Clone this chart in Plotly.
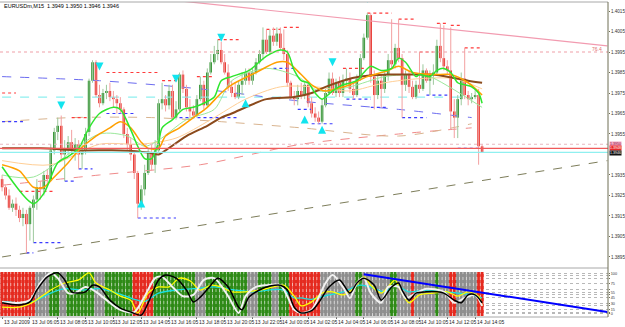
import plotly.graph_objects as go

# ---------------- price data (EURUSD, one bar per slot) ----------------
bar_idx = list(range(139))
opens = [1.3933,1.3929,1.3925,1.3919,1.3921,1.3918,1.3914,1.3916,1.3911,1.3919,
         1.3923,1.3929,1.3928,1.3935,1.3933,1.3947,1.3956,1.3959,1.3945,1.3948,
         1.3951,1.3947,1.3950,1.3945,1.3947,1.3956,1.3981,1.3990,1.3974,1.3970,
         1.3975,1.3976,1.3973,1.3972,1.3970,1.3967,1.3955,1.3950,1.3945,1.3936,
         1.3921,1.3928,1.3936,1.3946,1.3940,1.3947,1.3970,1.3972,1.3969,1.3976,
         1.3963,1.3967,1.3984,1.3977,1.3968,1.3966,1.3964,1.3972,1.3979,1.3969,
         1.3985,1.3990,1.3994,1.3996,1.3990,1.3985,1.3978,1.3975,1.3973,1.3979,
         1.3981,1.3985,1.3981,1.3985,1.3990,1.3994,1.4001,1.3995,1.4003,1.4000,
         1.4004,1.3997,1.3994,1.3980,1.3973,1.3972,1.3976,1.3974,1.3979,1.3970,
         1.3965,1.3963,1.3961,1.3969,1.3975,1.3982,1.3975,1.3980,1.3975,1.3981,
         1.3982,1.3977,1.3974,1.3982,1.3992,1.4002,1.4013,1.3983,1.3974,1.3981,
         1.3977,1.3984,1.3991,1.3989,1.3997,1.3992,1.3979,1.3984,1.3978,1.3973,
         1.3979,1.3977,1.3986,1.3981,1.3984,1.3985,1.3998,1.3992,1.3988,1.3986,
         1.3966,1.3963,1.3972,1.3982,1.3974,1.3972,1.3973,1.3974,1.3949]
highs = [1.3935,1.3930,1.3928,1.3923,1.3924,1.3920,1.3919,1.3918,1.3920,1.3925,
         1.3933,1.3932,1.3937,1.3938,1.3950,1.3958,1.3963,1.3964,1.3952,1.3954,
         1.3957,1.3953,1.3952,1.3950,1.3958,1.3982,1.3991,1.3991,1.3979,1.3977,
         1.3979,1.3980,1.3976,1.3974,1.3973,1.3968,1.3958,1.3953,1.3947,1.3937,
         1.3930,1.3940,1.3948,1.3950,1.3952,1.3972,1.3980,1.3974,1.3979,1.3979,
         1.3971,1.3985,1.3986,1.3979,1.3972,1.3969,1.3974,1.3983,1.3981,1.3987,
         1.3994,1.3998,1.4001,1.4000,1.3994,1.3989,1.3981,1.3980,1.3981,1.3985,
         1.3987,1.3987,1.3987,1.3992,1.3996,1.4007,1.4006,1.4006,1.4007,1.4007,
         1.4007,1.4006,1.3996,1.3981,1.3976,1.3979,1.3980,1.3981,1.3980,1.3973,
         1.3968,1.3966,1.3972,1.3977,1.3985,1.3985,1.3982,1.3983,1.3984,1.3987,
         1.3985,1.3980,1.3984,1.3994,1.4004,1.4014,1.4014,1.3986,1.3984,1.3984,
         1.3986,1.3994,1.4011,1.3999,1.4011,1.3994,1.3986,1.3986,1.3981,1.3981,
         1.3995,1.3989,1.3987,1.3986,1.3989,1.4001,1.4009,1.4008,1.3991,1.4007,
         1.3972,1.3974,1.3985,1.3997,1.3976,1.3975,1.3977,1.3977,1.3950]
lows = [1.3927,1.3923,1.3918,1.3917,1.3915,1.3912,1.3910,1.3897,1.3903,1.3902,
        1.3918,1.3923,1.3925,1.3930,1.3932,1.3945,1.3952,1.3942,1.3932,1.3945,
        1.3945,1.3942,1.3938,1.3938,1.3945,1.3954,1.3980,1.3973,1.3968,1.3969,
        1.3972,1.3971,1.3968,1.3965,1.3965,1.3953,1.3947,1.3942,1.3933,1.3914,
        1.3918,1.3925,1.3935,1.3937,1.3936,1.3946,1.3967,1.3966,1.3967,1.3962,
        1.3962,1.3966,1.3975,1.3966,1.3963,1.3963,1.3963,1.3971,1.3967,1.3968,
        1.3984,1.3989,1.3991,1.3989,1.3984,1.3976,1.3973,1.3972,1.3972,1.3974,
        1.3979,1.3979,1.3979,1.3984,1.3989,1.3991,1.3994,1.3994,1.3998,1.3998,
        1.3996,1.3991,1.3978,1.3972,1.3969,1.3969,1.3972,1.3972,1.3968,1.3963,
        1.3961,1.3960,1.3960,1.3968,1.3974,1.3974,1.3973,1.3973,1.3973,1.3979,
        1.3975,1.3972,1.3973,1.3981,1.3991,1.4001,1.3980,1.3967,1.3972,1.3968,
        1.3975,1.3981,1.3987,1.3987,1.3990,1.3963,1.3976,1.3975,1.3972,1.3972,
        1.3975,1.3976,1.3980,1.3974,1.3979,1.3984,1.3990,1.3986,1.3984,1.3957,
        1.3953,1.3953,1.3969,1.3972,1.3969,1.3970,1.3972,1.3940,1.3946]
closes = [1.3929,1.3925,1.3919,1.3921,1.3918,1.3914,1.3916,1.3911,1.3919,1.3923,
          1.3929,1.3928,1.3935,1.3933,1.3947,1.3956,1.3959,1.3945,1.3948,1.3951,
          1.3947,1.3950,1.3945,1.3947,1.3955,1.3981,1.3990,1.3974,1.3970,1.3975,
          1.3976,1.3973,1.3972,1.3970,1.3967,1.3955,1.3950,1.3945,1.3936,1.3921,
          1.3928,1.3936,1.3946,1.3940,1.3947,1.3970,1.3972,1.3969,1.3976,1.3963,
          1.3967,1.3984,1.3977,1.3968,1.3966,1.3964,1.3972,1.3979,1.3969,1.3985,
          1.3990,1.3994,1.3996,1.3990,1.3985,1.3978,1.3975,1.3973,1.3979,1.3981,
          1.3985,1.3981,1.3985,1.3990,1.3994,1.4001,1.3995,1.4003,1.4000,1.4004,
          1.3997,1.3994,1.3980,1.3973,1.3972,1.3976,1.3974,1.3979,1.3970,1.3965,
          1.3963,1.3961,1.3969,1.3975,1.3982,1.3975,1.3980,1.3975,1.3981,1.3982,
          1.3977,1.3974,1.3982,1.3992,1.4002,1.4013,1.3983,1.3974,1.3981,1.3977,
          1.3984,1.3991,1.3989,1.3997,1.3992,1.3979,1.3984,1.3978,1.3973,1.3979,
          1.3977,1.3986,1.3981,1.3984,1.3985,1.3998,1.3992,1.3988,1.3986,1.3966,
          1.3963,1.3972,1.3982,1.3974,1.3972,1.3973,1.3974,1.3949,1.3946]

# ---------------- moving averages (sampled from the chart) ----------------
ma_fast_x = [0, 9, 12, 16, 19, 22, 25, 28, 32, 34, 37, 39, 41, 43, 45, 46, 49, 52, 55, 58, 61, 63, 66, 71, 76, 80, 82, 84, 86, 88, 90, 92, 95, 98, 102, 104, 106, 109, 112, 114, 116, 119, 120, 123, 125, 127, 129, 131, 133, 135, 137, 138]
ma_fast_y = [1.3939, 1.3921, 1.3926, 1.3941, 1.3944, 1.3948, 1.3958, 1.3965, 1.3968, 1.3967, 1.3957, 1.3949, 1.3943, 1.3943, 1.3951, 1.3958, 1.3962, 1.3967, 1.3968, 1.3970, 1.3973, 1.3981, 1.3983, 1.3986, 1.3993, 1.3996, 1.3995, 1.3986, 1.3981, 1.3980, 1.3975, 1.3972, 1.3976, 1.3979, 1.3981, 1.3985, 1.3988, 1.3986, 1.3987, 1.3992, 1.3990, 1.3983, 1.3984, 1.3983, 1.3986, 1.3987, 1.3985, 1.3980, 1.3979, 1.3978, 1.3975, 1.3970]
ma_mid_x = [0, 5, 9, 12, 15, 19, 22, 27, 31, 34, 37, 40, 42, 45, 47, 51, 55, 59, 63, 66, 73, 79, 82, 86, 89, 93, 96, 100, 105, 111, 114, 118, 124, 129, 134, 138]
ma_mid_y = [1.3940, 1.3937, 1.3929, 1.3929, 1.3934, 1.3941, 1.3947, 1.3954, 1.3958, 1.3961, 1.3958, 1.3951, 1.3948, 1.3948, 1.3954, 1.3958, 1.3963, 1.3968, 1.3975, 1.3979, 1.3985, 1.3990, 1.3990, 1.3984, 1.3979, 1.3976, 1.3977, 1.3979, 1.3983, 1.3986, 1.3988, 1.3985, 1.3984, 1.3984, 1.3980, 1.3974]
ma_slow_x = [0, 11, 22, 34, 42, 45, 47, 53, 59, 63, 66, 76, 84, 89, 93, 98, 103, 111, 120, 124, 134, 138]
ma_slow_y = [1.3948, 1.3948, 1.3947, 1.3947, 1.3946, 1.3945, 1.3947, 1.3954, 1.3959, 1.3963, 1.3965, 1.3972, 1.3973, 1.3975, 1.3978, 1.3981, 1.3983, 1.3984, 1.3984, 1.3984, 1.3981, 1.3980]
ma_lgreen_x = [0, 9, 28, 36, 41, 45, 53, 61, 66, 76, 85, 91, 100, 110, 119, 123, 138]
ma_lgreen_y = [1.3935, 1.3934, 1.3955, 1.3954, 1.3949, 1.3952, 1.3962, 1.3967, 1.3981, 1.3987, 1.3983, 1.3976, 1.3978, 1.3983, 1.3984, 1.3983, 1.3968]
ma_lorange_x = [0, 14, 28, 40, 50, 60, 70, 80, 90, 100, 110, 120, 130, 138]
ma_lorange_y = [1.3942, 1.3940, 1.3950, 1.3950, 1.3953, 1.3962, 1.3972, 1.3978, 1.3978, 1.3976, 1.3980, 1.3982, 1.3982, 1.3977]
env_blue_x = [0, 28, 57, 86, 114, 135]
env_blue_y = [1.3983, 1.3981, 1.3977, 1.3971, 1.3967, 1.3963]
env_salmon_x = [0, 28, 57, 86, 114, 135]
env_salmon_y = [1.3930, 1.3935, 1.3940, 1.3950, 1.3955, 1.3958]
env_tan_x = [0, 20, 43, 63, 86, 114, 135]
env_tan_y = [1.3961, 1.3963, 1.3963, 1.3961, 1.3958, 1.3954, 1.3960]
cyan_level = 1.3973
cyan_level_span = [0, 135]

# trend lines
pink_trend_x = [45, 174]
pink_trend_y = [1.4021, 1.3998]
olive_trend_x = [0, 174]
olive_trend_y = [1.3895, 1.3942]

# full-width levels
fib_level = 1.3995
ask_level = 1.3950
red_level = 1.3948
bid_level = 1.3946

# fractal levels (start bar, end bar, price)
res_start = [0, 20, 5, 30, 46, 56, 62, 76, 81, 98, 105, 114, 125, 129, 120, 133]
res_end = [4, 25, 15, 45, 51, 61, 68, 80, 86, 104, 112, 119, 128, 132, 124, 138]
res_price = [1.3975, 1.3963, 1.3927, 1.3985, 1.3981, 1.3983, 1.4001, 1.4006, 1.4007, 1.3987, 1.4014, 1.4011, 1.4009, 1.4008, 1.3995, 1.3997]
sup_start = [0, 22, 18, 9, 7, 30, 39, 51, 78, 85, 89, 99, 106, 115, 122, 131]
sup_end = [6, 26, 21, 17, 9, 38, 50, 68, 84, 89, 95, 106, 111, 122, 128, 137]
sup_price = [1.3961, 1.3938, 1.3932, 1.3902, 1.3897, 1.3965, 1.3914, 1.3963, 1.3987, 1.3967, 1.3960, 1.3972, 1.3968, 1.3963, 1.3974, 1.3948]

# signal arrows
arrow_dn_x = [17, 28, 50, 63, 95, 105]
arrow_dn_y = [1.3967, 1.3986, 1.3980, 1.4000, 1.3988, 1.4019]
arrow_up_x = [40, 70, 87, 92]
arrow_up_y = [1.3923, 1.3972, 1.3964, 1.3959]

# ---------------- lower indicator ----------------
zone_runs = [("r", 10), ("n", 4), ("g", 3), ("n", 2), ("g", 8), ("n", 3), ("g", 8), ("r", 6),
             ("g", 12), ("n", 3), ("g", 12), ("n", 3), ("g", 4), ("n", 2), ("g", 3), ("r", 9),
             ("n", 10), ("g", 2), ("n", 8), ("g", 2), ("n", 4), ("r", 1), ("n", 6), ("g", 1),
             ("n", 3), ("r", 2), ("n", 6), ("r", 2)]
osc_black_x = [0, 5, 8, 10, 13, 16, 18, 20, 22, 24, 26, 28, 31, 34, 37, 40, 42, 45, 47, 50, 53, 55, 57, 60, 62, 65, 68, 69, 71, 74, 77, 80, 82, 84, 86, 89, 91, 94, 97, 100, 102, 104, 107, 109, 112, 114, 115, 117, 119, 122, 125, 127, 130, 132, 134, 136, 138]
osc_black_y = [30, 25, 32, 59, 89, 98, 82, 55, 52, 55, 70, 66, 36, 18, 9, 2, 30, 82, 93, 86, 59, 32, 43, 70, 86, 66, 20, 14, 43, 59, 68, 70, 59, 20, 7, 12, 30, 66, 82, 52, 75, 86, 70, 36, 66, 75, 59, 36, 52, 55, 55, 52, 36, 30, 48, 48, 30]
osc_white_x = [0, 5, 8, 11, 14, 16, 19, 21, 24, 27, 31, 34, 38, 41, 44, 46, 49, 52, 55, 58, 61, 65, 68, 70, 73, 76, 80, 82, 84, 86, 89, 93, 95, 98, 100, 102, 104, 106, 109, 111, 114, 116, 119, 122, 127, 130, 133, 136, 138]
osc_white_y = [32, 30, 36, 75, 98, 86, 52, 52, 66, 55, 30, 14, 9, 45, 86, 89, 66, 45, 48, 82, 86, 45, 7, 45, 66, 70, 70, 45, 14, 7, 14, 75, 93, 66, 41, 75, 86, 52, 30, 66, 66, 41, 52, 62, 55, 30, 41, 48, 23]
osc_yellow_x = [0, 5, 9, 14, 18, 22, 25, 27, 31, 34, 37, 39, 42, 45, 48, 51, 54, 57, 60, 63, 66, 70, 74, 78, 81, 84, 86, 89, 92, 95, 98, 101, 104, 106, 109, 113, 114, 117, 120, 124, 128, 131, 134, 137, 138]
osc_yellow_y = [20, 20, 32, 59, 75, 82, 98, 75, 59, 45, 36, 7, 52, 66, 66, 86, 80, 59, 70, 66, 55, 55, 59, 66, 70, 45, 23, 32, 52, 55, 48, 62, 89, 70, 52, 82, 66, 30, 48, 52, 55, 45, 55, 45, 23]
osc_cyan_x = [0, 5, 9, 14, 18, 23, 28, 33, 38, 41, 45, 50, 55, 61, 67, 72, 78, 81, 84, 86, 89, 94, 98, 103, 106, 110, 113, 117, 122, 127, 131, 135, 138]
osc_cyan_y = [33, 30, 33, 52, 62, 59, 62, 52, 38, 33, 52, 59, 62, 66, 59, 55, 60, 59, 41, 41, 38, 48, 55, 70, 66, 55, 70, 55, 59, 55, 52, 48, 41]
osc_trend_x = [104, 174]
osc_trend_y = [95, 9]
osc_levels = [97, 91, 85, 73, 61, 54, 48, 42, 29, 23, 15, 9, 5]
osc_level_text = ["100", "", "", "75", "", "55", "", "45", "30", "", "15", "", "0"]

# axis labels
price_ticks = [1.4015, 1.4005, 1.3995, 1.3985, 1.3975, 1.3965, 1.3955, 1.3935, 1.3925, 1.3915, 1.3905, 1.3895]
time_tick_bars = [0, 8, 16, 24, 32, 40, 48, 56, 64, 72, 80, 88, 96, 104, 112, 120, 128, 136]
time_tick_text = ["13 Jul 2009", "13 Jul 06:05", "13 Jul 08:05", "13 Jul 10:05", "13 Jul 12:05",
                  "13 Jul 14:05", "13 Jul 16:05", "13 Jul 18:05", "13 Jul 20:05", "13 Jul 22:05",
                  "14 Jul 00:05", "14 Jul 02:05", "14 Jul 04:05", "14 Jul 06:05", "14 Jul 08:05",
                  "14 Jul 10:05", "14 Jul 12:05", "14 Jul 14:05"]
title_text = "EURUSDm,M15  1.3949 1.3950 1.3946 1.3946"

# ---------------- build figure ----------------
FONT = "Liberation Sans Narrow, Liberation Sans, Arial, sans-serif"
GREEN_BODY = "#1f8a1f"
RED_BODY = "#e6231b"
fig = go.Figure()

# indicator background stripes
zone_color_map = {"r": "#e52a1f", "g": "#2e8a16", "n": "#8e8e8e"}
zone_colors = []
for code, n in zone_runs:
    zone_colors += [zone_color_map[code]] * n
fig.add_trace(go.Bar(x=bar_idx, y=[100] * len(bar_idx), base=0, width=1.0,
                     marker=dict(color=zone_colors, line=dict(width=0)),
                     xaxis="x", yaxis="y2", hoverinfo="skip", showlegend=False))
vx, vy = [], []
for i in bar_idx:
    vx += [i + 0.5, i + 0.5, None]
    vy += [0, 100, None]
fig.add_trace(go.Scatter(x=vx, y=vy, mode="lines", yaxis="y2",
                         line=dict(color="rgba(255,255,255,0.55)", width=1, dash="dot"),
                         hoverinfo="skip", showlegend=False))
for xs, ys, col, w in [(osc_cyan_x, osc_cyan_y, "#19e0e0", 1.3),
                       (osc_yellow_x, osc_yellow_y, "#ffff00", 1.3),
                       (osc_white_x, osc_white_y, "#f2f2f2", 2),
                       (osc_black_x, osc_black_y, "#000000", 1.5)]:
    fig.add_trace(go.Scatter(x=xs, y=ys, mode="lines", yaxis="y2",
                             line=dict(color=col, width=w, shape="spline", smoothing=0.8),
                             hoverinfo="skip", showlegend=False))
fig.add_trace(go.Scatter(x=osc_trend_x, y=osc_trend_y, mode="lines", yaxis="y2",
                         line=dict(color="#0000ff", width=2), hoverinfo="skip", showlegend=False))

# price panel: envelopes / levels
def add_line(xs, ys, col, w, dash="solid", shape="spline"):
    fig.add_trace(go.Scatter(x=xs, y=ys, mode="lines", yaxis="y",
                             line=dict(color=col, width=w, dash=dash, shape=shape, smoothing=0.8),
                             hoverinfo="skip", showlegend=False))

add_line(olive_trend_x, olive_trend_y, "#7d7d5a", 1, "dash", "linear")
add_line(pink_trend_x, pink_trend_y, "#f29bb0", 1.2, "solid", "linear")
add_line(cyan_level_span, [cyan_level, cyan_level], "#8ff0f0", 1.2, "dash", "linear")
add_line(env_blue_x, env_blue_y, "#6c6cf0", 1, "dash")
add_line(env_salmon_x, env_salmon_y, "#f08a8a", 1, "dash")
add_line(env_tan_x, env_tan_y, "#d9b48f", 1, "dash")

# fractal dotted levels
for s, e, p, col in [(res_start, res_end, res_price, "#ff3b3b"), (sup_start, sup_end, sup_price, "#3b3bff")]:
    xs, ys = [], []
    for a, b, v in zip(s, e, p):
        xs += [a, b, None]
        ys += [v, v, None]
    add_line(xs, ys, col, 1.2, "dot", "linear")

# candles: wicks then bodies
up = [c >= o for o, c in zip(opens, closes)]
for flag, col in [(True, "#9cc89c"), (False, "#f3a0a0")]:
    xs, ys = [], []
    for i in bar_idx:
        if up[i] == flag:
            xs += [i, i, None]
            ys += [lows[i], highs[i], None]
    add_line(xs, ys, col, 1, "solid", "linear")
body_base = [min(o, c) for o, c in zip(opens, closes)]
body_h = [max(abs(c - o), 0.00005) for o, c in zip(opens, closes)]
fig.add_trace(go.Bar(x=bar_idx, y=body_h, base=body_base, width=0.72, yaxis="y",
                     marker=dict(color=[GREEN_BODY if u else RED_BODY for u in up], line=dict(width=0)),
                     hoverinfo="skip", showlegend=False))

# moving averages on top
add_line(ma_lorange_x, ma_lorange_y, "#ffcf96", 1)
add_line(ma_lgreen_x, ma_lgreen_y, "#9be89b", 1)
add_line(ma_slow_x, ma_slow_y, "#8b4a1c", 2)
add_line(ma_mid_x, ma_mid_y, "#ffa000", 1.5)
add_line(ma_fast_x, ma_fast_y, "#2ee62e", 1.5)

# arrows
fig.add_trace(go.Scatter(x=arrow_dn_x, y=arrow_dn_y, mode="markers", yaxis="y",
                         marker=dict(symbol="arrow-down", size=8, color="#12e4ee"),
                         hoverinfo="skip", showlegend=False))
fig.add_trace(go.Scatter(x=arrow_up_x, y=arrow_up_y, mode="markers", yaxis="y",
                         marker=dict(symbol="arrow-up", size=8, color="#12e4ee"),
                         hoverinfo="skip", showlegend=False))

# full width level lines
shapes = []
for lvl, col, dash in [(fib_level, "#f0a0a8", "dot"), (ask_level, "#e8b8c0", "dot"),
                       (red_level, "#f05a5a", "solid"), (bid_level, "#8ff0f0", "solid")]:
    shapes.append(dict(type="line", xref="paper", x0=0, x1=1, yref="y", y0=lvl, y1=lvl,
                       line=dict(color=col, width=1.2, dash=dash), layer="above"))
# frame lines
P_TOP = 2; P_BOT = 10; H = 327; PH = H - P_TOP - P_BOT
def py(pix):
    return (H - P_BOT - pix) / PH
shapes += [
    dict(type="line", xref="paper", yref="paper", x0=0, x1=1, y0=1, y1=1, line=dict(color="#a8a8a8", width=1)),
    dict(type="line", xref="paper", yref="paper", x0=0, x1=1, y0=py(268), y1=py(268), line=dict(color="#a8a8a8", width=1)),
    dict(type="line", xref="paper", yref="paper", x0=0, x1=1, y0=0, y1=0, line=dict(color="#a8a8a8", width=1)),
    dict(type="line", xref="paper", yref="paper", x0=1, x1=1, y0=0, y1=1, line=dict(color="#6f6f55", width=1)),
]

annotations = [dict(text=title_text, xref="paper", yref="paper", x=0.004, y=py(6), xanchor="left",
                    yanchor="middle", showarrow=False, font=dict(family=FONT, size=5.5, color="#000000"))]
for b, t in zip(time_tick_bars, time_tick_text):
    annotations.append(dict(text=t, x=b, xref="x", yref="paper", y=py(321.5), xanchor="left", yanchor="middle",
                            showarrow=False, font=dict(family=FONT, size=5, color="#222222")))
# stacked price tags on the right axis (ask / last / bid)
tag_pix = [143.5, 148, 153]
for (lvl, bg, fg), tp in zip([(ask_level, "#f4a8c4", "#8a2040"), (red_level, "#e8282a", "#ffffff"),
                              (bid_level, "#111111", "#ffffff")], tag_pix):
    annotations.append(dict(text=f"{lvl:.4f}", xref="paper", x=1.002, yref="paper", y=py(tp),
                            xanchor="left", yanchor="middle", showarrow=False, bgcolor=bg, borderpad=0,
                            font=dict(family=FONT, size=3.6, color=fg)))
annotations.append(dict(text="76.4", xref="x", x=171, yref="y", y=fib_level + 0.00015, showarrow=False,
                        font=dict(family=FONT, size=5, color="#e07070")))

fig.update_layout(
    width=625, height=327, margin=dict(l=0, r=17, t=P_TOP, b=P_BOT),
    paper_bgcolor="#ffffff", plot_bgcolor="#ffffff", barmode="overlay", showlegend=False,
    xaxis=dict(range=[-0.6, 174.2], showgrid=False, zeroline=False, showticklabels=False,
               tickvals=time_tick_bars, ticks="outside", ticklen=2, tickcolor="#666666",
               anchor="y2", fixedrange=True),
    yaxis=dict(domain=[py(267), 1], range=[1.38901, 1.40194], side="right", anchor="x",
               tickmode="array", tickvals=price_ticks, ticktext=[f"{v:.4f}" for v in price_ticks],
               ticks="outside", ticklen=1, tickcolor="#6f6f55", showgrid=False, zeroline=False,
               tickfont=dict(family=FONT, size=4.6, color="#333333"), automargin=False),
    yaxis2=dict(domain=[py(316), py(272)], range=[0, 100], side="right", anchor="x",
                tickmode="array", tickvals=osc_levels, ticktext=osc_level_text, showgrid=True,
                gridcolor="#b8b8b8", griddash="dot", gridwidth=1, zeroline=False,
                ticks="outside", ticklen=1, tickcolor="#6f6f55",
                tickfont=dict(family=FONT, size=3.8, color="#333333"), automargin=False),
    shapes=shapes, annotations=annotations,
)

fig.write_html("out.html")
